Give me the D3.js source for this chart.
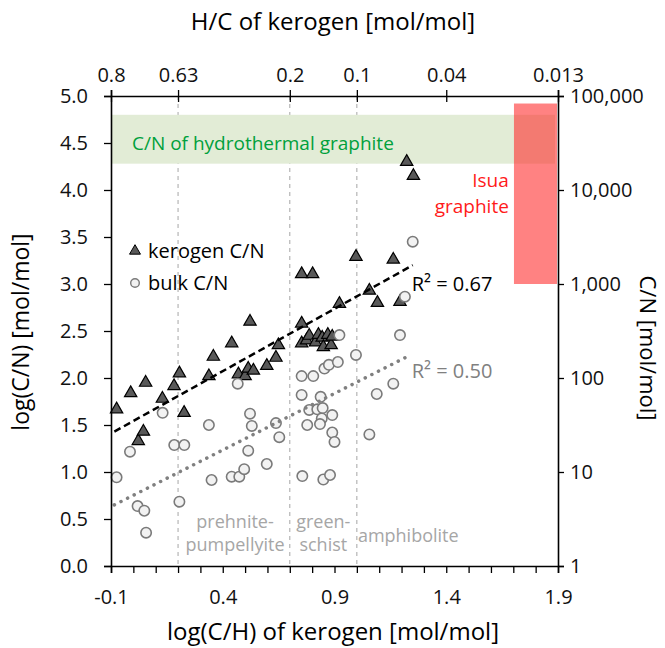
<!DOCTYPE html>
<html>
<head>
<meta charset="utf-8">
<script src="https://cdn.jsdelivr.net/npm/d3@7"></script>
<style>
  body { margin: 0; background: #fff; }
  svg text { font-family: "Open Sans", sans-serif; }
</style>
</head>
<body>
<div id="chart"></div>
<script>
// data: [log(C/H), log(C/N)]
var kerogen = [
  [-0.075, 1.667], [-0.012, 1.84], [0.022, 1.33], [0.045, 1.43], [0.055, 1.95],
  [0.13, 1.78], [0.182, 1.915], [0.206, 2.05], [0.227, 1.63], [0.338, 2.02],
  [0.358, 2.227], [0.44, 2.37], [0.47, 2.04], [0.5, 2.02], [0.514, 2.1],
  [0.537, 2.08], [0.522, 2.6], [0.597, 2.13], [0.638, 2.216], [0.649, 2.35],
  [0.753, 2.58], [0.753, 2.37], [0.775, 2.40], [0.787, 2.45], [0.815, 2.38],
  [0.828, 2.46], [0.845, 2.43], [0.85, 2.33], [0.87, 2.46], [0.885, 2.35],
  [0.89, 2.44], [0.753, 3.106], [0.802, 3.106], [0.922, 2.79], [0.996, 3.29],
  [1.056, 2.93], [1.092, 2.8], [1.163, 3.26], [1.193, 2.81], [1.223, 4.30],
  [1.253, 4.15]
];
var bulk = [
  [-0.075, 0.944], [-0.015, 1.216], [0.019, 0.638], [0.049, 0.588], [0.057, 0.354],
  [0.131, 1.63], [0.183, 1.287], [0.228, 1.287], [0.206, 0.684], [0.338, 1.5],
  [0.35, 0.915], [0.44, 0.95], [0.474, 0.95], [0.496, 1.03], [0.467, 1.94],
  [0.514, 1.227], [0.522, 1.62], [0.53, 1.49], [0.597, 1.085], [0.638, 1.52],
  [0.653, 1.37], [0.753, 2.02], [0.805, 2.02], [0.753, 1.82], [0.838, 1.80],
  [0.787, 1.66], [0.823, 1.667], [0.847, 1.68], [0.843, 1.57], [0.89, 1.606],
  [0.778, 1.5], [0.835, 1.51], [0.89, 1.42], [0.9, 1.32], [0.756, 0.957],
  [0.85, 0.92], [0.88, 0.968], [0.855, 2.1], [0.875, 2.14], [0.915, 2.17],
  [0.922, 2.457], [0.996, 2.245], [1.056, 1.40], [1.089, 1.83], [1.163, 1.94],
  [1.193, 2.457], [1.215, 2.865], [1.25, 3.45]
];

// trend lines (end points)
var kerogenTrend = [[-0.085, 1.43], [1.25, 3.2]];
var bulkTrend = [[-0.085, 0.65], [1.24, 2.245]];

// top axis: H/C labels at log(C/H) positions
var topTickPos = [-0.1, 0.2, 0.7, 1.0, 1.4, 1.9];
var topTickLabels = ["0.8", "0.63", "0.2", "0.1", "0.04", "0.013"];

// metamorphic grade boundaries
var gradeLines = [0.2, 0.7, 1.0];

// shaded ranges
var hydroBand = {x: [-0.1, 1.9], y: [4.28, 4.8]};
var isuaBox = {x: [1.703, 1.9], y: [3.0, 4.92]};

var margin = {top: 96, right: 107, bottom: 82, left: 111},
    width = 665 - margin.left - margin.right,
    height = 648 - margin.top - margin.bottom;

var x = d3.scaleLinear().domain([-0.1, 1.9]).range([0, width]);
var y = d3.scaleLinear().domain([0, 5]).range([height, 0]);
var yRight = d3.scaleLog().domain([1, 100000]).range([height, 0]);

var svg = d3.select("#chart").append("svg")
    .attr("width", 665)
    .attr("height", 648);
var g = svg.append("g")
    .attr("transform", "translate(" + margin.left + "," + margin.top + ")");

// vertical dashed lines
g.selectAll(".grade")
    .data(gradeLines)
  .enter().append("line")
    .attr("x1", function(d) { return x(d); })
    .attr("x2", function(d) { return x(d); })
    .attr("y1", 0)
    .attr("y2", height)
    .attr("stroke", "#a6a6a6")
    .attr("stroke-width", 1)
    .attr("stroke-dasharray", "4,4");

// hydrothermal band
g.append("rect")
    .attr("x", x(hydroBand.x[0]))
    .attr("width", x(hydroBand.x[1]) - x(hydroBand.x[0]) - 3)
    .attr("y", y(hydroBand.y[1]))
    .attr("height", y(hydroBand.y[0]) - y(hydroBand.y[1]))
    .attr("fill", "#e2ecd6");

g.append("text")
    .attr("x", 21)
    .attr("y", y(4.5) + 7)
    .attr("fill", "#00a03c")
    .style("font-size", "19px")
    .text("C/N of hydrothermal graphite");

// Isua box
g.append("rect")
    .attr("x", x(isuaBox.x[0]))
    .attr("width", x(isuaBox.x[1]) - x(isuaBox.x[0]) - 1)
    .attr("y", y(isuaBox.y[1]))
    .attr("height", y(isuaBox.y[0]) - y(isuaBox.y[1]))
    .attr("fill", "rgba(255, 40, 40, 0.58)");

g.append("text")
    .attr("text-anchor", "end")
    .attr("fill", "#ff1a1a")
    .style("font-size", "19px")
    .selectAll("tspan")
    .data(["Isua", "graphite"])
  .enter().append("tspan")
    .attr("x", x(1.68))
    .attr("y", function(d, i) { return 91 + i * 26; })
    .text(function(d) { return d; });

// grade labels
var gradeText = [
  {lines: ["prehnite-", "pumpellyite"], x: 0.455},
  {lines: ["green-", "schist"], x: 0.85},
  {lines: ["amphibolite"], x: 1.23}
];
gradeText.forEach(function(t) {
  var txt = g.append("text")
      .attr("text-anchor", "middle")
      .attr("fill", "#a6a6a6")
      .style("font-size", "18px");
  t.lines.forEach(function(l, i) {
    var base = t.lines.length === 1 ? 446 : 432 + i * 23;
    txt.append("tspan").attr("x", x(t.x)).attr("y", base).text(l);
  });
});

// markers
var tri = d3.symbol().type(d3.symbolTriangle).size(66);
g.selectAll(".ker")
    .data(kerogen)
  .enter().append("path")
    .attr("d", tri)
    .attr("transform", function(d) { return "translate(" + x(d[0]) + "," + y(d[1]) + ")"; })
    .attr("fill", "#595959")
    .attr("stroke", "#000")
    .attr("stroke-width", 1.2);

g.selectAll(".bulk")
    .data(bulk)
  .enter().append("circle")
    .attr("cx", function(d) { return x(d[0]); })
    .attr("cy", function(d) { return y(d[1]); })
    .attr("r", 5.2)
    .attr("fill", "#f2f2f2")
    .attr("stroke", "#7a7a7a")
    .attr("stroke-width", 1.6);

// trend lines
var line = d3.line()
    .x(function(d) { return x(d[0]); })
    .y(function(d) { return y(d[1]); });

g.append("path")
    .attr("d", line(kerogenTrend))
    .attr("fill", "none")
    .attr("stroke", "#000")
    .attr("stroke-width", 2.5)
    .attr("stroke-dasharray", "7,4");

g.append("path")
    .attr("d", line(bulkTrend))
    .attr("fill", "none")
    .attr("stroke", "#808080")
    .attr("stroke-width", 3.5)
    .attr("stroke-linecap", "round")
    .attr("stroke-dasharray", "0.1,7.3");

g.append("text")
    .attr("x", x(1.25) - 1)
    .attr("y", y(3.0) + 7)
    .style("font-size", "20px")
    .attr("fill", "#000")
    .text("R² = 0.67");

g.append("text")
    .attr("x", x(1.25) - 1)
    .attr("y", y(2.07) + 7)
    .style("font-size", "20px")
    .attr("fill", "#808080")
    .text("R² = 0.50");

// legend
var legend = g.append("g").attr("transform", "translate(24,155)");
legend.append("path")
    .attr("d", d3.symbol().type(d3.symbolTriangle).size(52))
    .attr("fill", "#595959")
    .attr("stroke", "#000")
    .attr("stroke-width", 1);
legend.append("text")
    .attr("x", 13).attr("y", 7)
    .style("font-size", "20px")
    .text("kerogen C/N");
legend.append("circle")
    .attr("cy", 32).attr("r", 4.3)
    .attr("fill", "#f2f2f2")
    .attr("stroke", "#7a7a7a")
    .attr("stroke-width", 1.4);
legend.append("text")
    .attr("x", 13).attr("y", 39)
    .style("font-size", "20px")
    .text("bulk C/N");

// axes
var fmt1 = function(d) { return d3.format(".1f")(d).replace("\u2212", "-"); };
var bottomTicks = d3.range(0, 21).map(function(i) { return -0.1 + i * 0.1; });

g.append("g")
    .attr("transform", "translate(0," + height + ")")
    .call(d3.axisBottom(x)
      .tickValues(bottomTicks)
      .tickSize(7)
      .tickPadding(17)
      .tickFormat(function(d, i) { return i % 5 === 0 ? fmt1(d) : ""; }))
    .call(styleAxis);

g.append("g")
    .call(d3.axisTop(x)
      .tickValues(topTickPos)
      .tickSize(6)
      .tickPadding(8)
      .tickFormat(function(d, i) { return topTickLabels[i]; }))
    .call(styleAxis)
    .call(function(a) { a.selectAll(".tick line").attr("y2", 6).attr("y1", -6); });

g.append("g")
    .call(d3.axisLeft(y)
      .tickValues(d3.range(0, 11).map(function(i) { return i * 0.5; }))
      .tickSize(7)
      .tickPadding(16)
      .tickFormat(fmt1))
    .call(styleAxis);

g.append("g")
    .attr("transform", "translate(" + width + ",0)")
    .call(d3.axisRight(yRight)
      .tickValues([1, 10, 100, 1000, 10000, 100000])
      .tickSize(6)
      .tickPadding(6)
      .tickFormat(d3.format(",")))
    .call(styleAxis);

function styleAxis(a) {
  a.select(".domain").attr("stroke", "#000").attr("stroke-width", 1.6);
  a.selectAll(".tick line").attr("stroke", "#000").attr("stroke-width", 1.3);
  a.selectAll(".tick text")
    .attr("fill", "#111")
    .style("font-size", "20px")
    .style("font-family", "'Open Sans', sans-serif");
}

// axis titles
svg.append("text")
    .attr("x", 333).attr("y", 30)
    .attr("text-anchor", "middle")
    .style("font-size", "24px")
    .text("H/C of kerogen [mol/mol]");

svg.append("text")
    .attr("x", 333).attr("y", 640)
    .attr("text-anchor", "middle")
    .style("font-size", "24px")
    .text("log(C/H) of kerogen [mol/mol]");

svg.append("text")
    .attr("transform", "translate(29,332) rotate(-90)")
    .attr("text-anchor", "middle")
    .style("font-size", "23px")
    .text("log(C/N) [mol/mol]");

svg.append("text")
    .attr("transform", "translate(640,348) rotate(90)")
    .attr("text-anchor", "middle")
    .style("font-size", "22px")
    .text("C/N [mol/mol]");
</script>
</body>
</html>
